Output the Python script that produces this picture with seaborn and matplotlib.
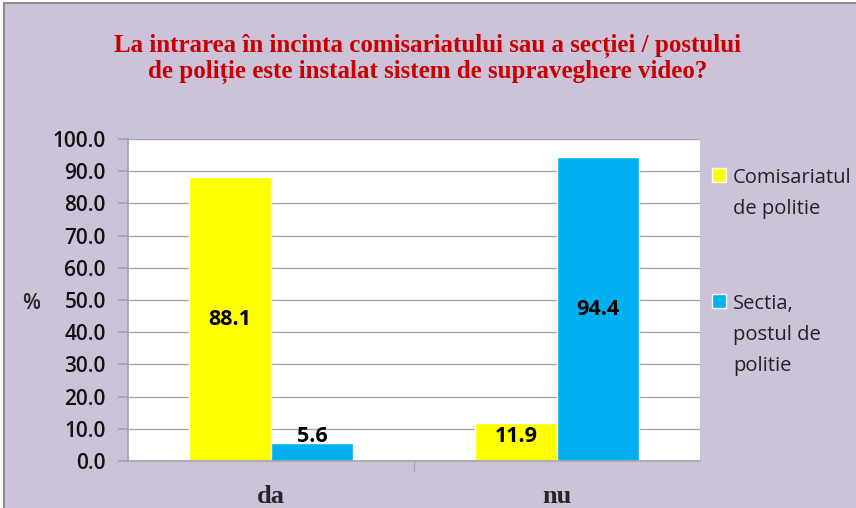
import pandas as pd
import seaborn as sns
import matplotlib.pyplot as plt
from matplotlib.patches import Rectangle

# datele din grafic
categorii = ['da', 'nu']
serii = ['Comisariatul\nde politie', 'Sectia,\npostul de\npolitie']
comisariat = [88.1, 11.9]
sectie = [5.6, 94.4]
culori = ['#FFFF00', '#00B0F0']

titlu = ('La intrarea în incinta comisariatului sau a secției / postului\n'
         'de poliție este instalat sistem de supraveghere video?')

df = pd.DataFrame({
    'Raspuns': categorii * 2,
    'Serie': [serii[0]] * 2 + [serii[1]] * 2,
    'Valoare': comisariat + sectie,
})

sns.set_theme(style='white')
plt.rcParams['font.family'] = ['Open Sans', 'DejaVu Sans']

fig = plt.figure(figsize=(8.56, 5.08), dpi=100)
fig.patch.set_facecolor('white')
fig.patches.append(Rectangle((4 / 856, -0.02), 1.0, 1 - 3 / 508 + 0.02,
                             transform=fig.transFigure, facecolor='#CCC3DB',
                             edgecolor='#8C8C8C', linewidth=1.5, zorder=-5))

ax = fig.add_axes([128 / 856, 47 / 508, 572 / 856, 322 / 508])
ax.set_facecolor('white')

sns.barplot(data=df, x='Raspuns', y='Valoare', hue='Serie', palette=culori,
            width=0.573, gap=0, saturation=1, ax=ax, legend=True)

# etichete valori
for cont in ax.containers:
    for bar in cont:
        h = bar.get_height()
        ax.text(bar.get_x() + bar.get_width() / 2, max(h / 2, 7.5), f'{h:.1f}',
                ha='center', va='center', fontsize=15.5, fontweight='bold', color='black')

ax.set_ylim(0, 100)
ax.set_yticks(range(0, 101, 10))
ax.set_yticklabels([f'{v:.1f}' for v in range(0, 101, 10)], fontsize=15,
                   fontweight='semibold', color='#111111')
ax.yaxis.grid(True, color='#A6A6A6', linewidth=1)
ax.set_axisbelow(True)
ax.tick_params(axis='y', which='both', left=True, length=7, color='#A6A6A6', pad=9)
ax.set_xticks([0.5], minor=True)
ax.tick_params(axis='x', which='minor', bottom=True, length=7, color='#A6A6A6')
ax.set_xticks([0, 1])
ax.set_xticklabels(categorii, fontsize=19, fontweight='bold', family='Liberation Serif')
ax.tick_params(axis='x', which='major', bottom=False, pad=11)
ax.set_xlabel('')
ax.set_ylabel('%', fontsize=15, fontweight='semibold', rotation=0, va='center')
ax.yaxis.set_label_coords(-0.17, 0.49)

for s in ['top', 'right']:
    ax.spines[s].set_visible(False)
for s in ['left', 'bottom']:
    ax.spines[s].set_color('#A6A6A6')

leg = ax.legend(loc='upper left', bbox_to_anchor=(1.007, 0.935), frameon=False,
                fontsize=14.5, handlelength=0.7, handleheight=0.7, handletextpad=0.35,
                labelspacing=3.7, borderaxespad=0)
for col in leg._legend_handle_box.get_children():
    for hp in col.get_children():
        hp.align = 'top'
for t in leg.get_texts():
    t.set_linespacing(1.75)
    t.set_color('#222222')

fig.text(0.5, 1 - 59 / 508, titlu, ha='center', va='center', color='#C80000',
         fontsize=18, fontweight='bold', family='Liberation Serif', linespacing=1.1)

fig.savefig('out.png', dpi=100)
